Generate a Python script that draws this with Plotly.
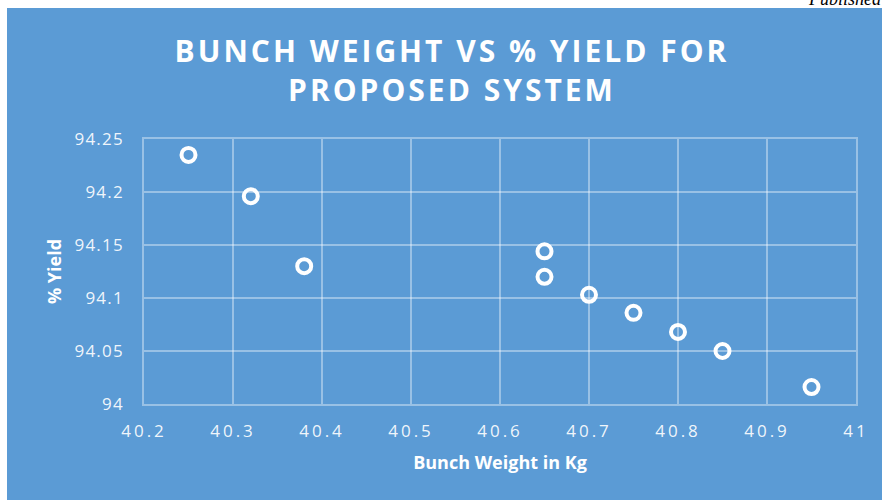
import plotly.graph_objects as go

# Data
bunch_weight = [40.25, 40.32, 40.38, 40.65, 40.65, 40.70, 40.75, 40.80, 40.85, 40.95]
yield_pct = [94.235, 94.196, 94.130, 94.144, 94.120, 94.103, 94.086, 94.068, 94.050, 94.016]

x_ticks = [40.2, 40.3, 40.4, 40.5, 40.6, 40.7, 40.8, 40.9, 41]
x_tick_text = ["40.2", "40.3", "40.4", "40.5", "40.6", "40.7", "40.8", "40.9", "41"]
y_ticks = [94, 94.05, 94.1, 94.15, 94.2, 94.25]
y_tick_text = ["94", "94.05", "94.1", "94.15", "94.2", "94.25"]

W, H = 882, 500
L, R, T, B = 144, 26, 139, 96
pw, ph = W - L - R, H - T - B

def px_x(px):
    return (px - L) / pw

def px_y(py):
    return (H - B - py) / ph

BLUE = "#5B9BD5"
GRID = "rgba(255,255,255,0.38)"
TICKC = "rgba(255,255,255,0.92)"

fig = go.Figure()
fig.add_trace(go.Scatter(
    x=bunch_weight, y=yield_pct, mode="markers",
    marker=dict(symbol="circle-open", size=14, color="white", line=dict(width=4, color="white")),
    showlegend=False, cliponaxis=False,
))

fig.update_layout(
    width=W, height=H,
    margin=dict(l=L, r=R, t=T, b=B),
    paper_bgcolor="white",
    plot_bgcolor="rgba(0,0,0,0)",
    title=dict(
        text="BUNCH WEIGHT VS % YIELD FOR<br>PROPOSED SYSTEM",
        xref="container", yref="container",
        x=452 / W, xanchor="center",
        y=1 - 62 / H, yanchor="middle",
        font=dict(family="Open Sans", size=30, color="white", weight="bold"),
    ),
    xaxis=dict(
        range=[40.2, 41], tickmode="array", tickvals=x_ticks, ticktext=x_tick_text,
        showgrid=True, gridcolor=GRID, gridwidth=1.5, zeroline=False,
        showline=True, linecolor=GRID, linewidth=1.5, mirror=True,
        ticks="", ticklabelstandoff=11,
        tickfont=dict(family="Open Sans", size=17, color=TICKC),
        title=dict(text="<b>Bunch Weight in Kg</b>", standoff=15,
                   font=dict(family="Open Sans", size=18, color="white")),
    ),
    yaxis=dict(
        range=[94, 94.25], tickmode="array", tickvals=y_ticks, ticktext=y_tick_text,
        showgrid=True, gridcolor=GRID, gridwidth=1.5, zeroline=False,
        showline=True, linecolor=GRID, linewidth=1.5, mirror=True,
        ticks="", ticklabelstandoff=15,
        tickfont=dict(family="Open Sans", size=17, color=TICKC),
        title=dict(text="<b>% Yield</b>", standoff=14,
                   font=dict(family="Open Sans", size=18, color="white")),
    ),
    shapes=[dict(
        type="rect", xref="paper", yref="paper", layer="below",
        x0=px_x(7), x1=px_x(W + 5), y0=px_y(H + 5), y1=px_y(8),
        fillcolor=BLUE, line=dict(width=0),
    )],
    annotations=[dict(
        text="<i>Published</i>", xref="paper", yref="paper",
        x=px_x(884), xanchor="right", y=px_y(11), yanchor="bottom",
        showarrow=False, font=dict(family="Liberation Serif", size=18, color="black"),
    )],
)

post = """
var gd = document.getElementById('{plot_id}');
function spacing() {
  gd.querySelectorAll('.gtitle').forEach(function(e){ e.style.letterSpacing = '3px'; });
  gd.querySelectorAll('.xtick text').forEach(function(e){ e.style.letterSpacing = '3px'; });
  gd.querySelectorAll('.ytick text').forEach(function(e){ e.style.letterSpacing = '1.2px'; });
}
spacing();
if (gd.on) { gd.on('plotly_afterplot', spacing); }
"""

fig.write_html("out.html", post_script=post)
